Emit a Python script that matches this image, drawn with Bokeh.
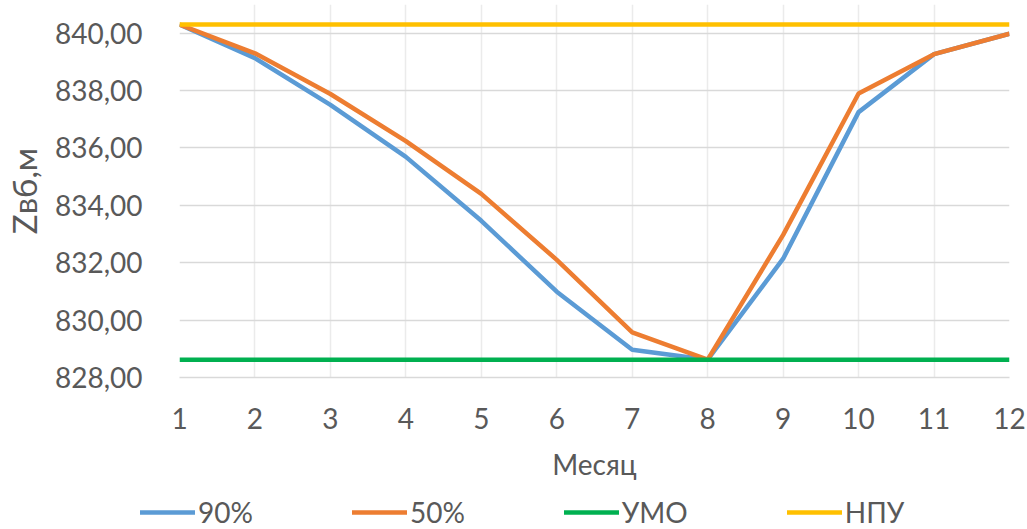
from bokeh.plotting import figure
from bokeh.layouts import column
from bokeh.models import FixedTicker, Legend, LegendItem, Range1d
from bokeh.embed import file_html
from bokeh.resources import INLINE

# Reservoir level by month
months = [1, 2, 3, 4, 5, 6, 7, 8, 9, 10, 11, 12]
level_90 = [840.30, 839.13, 837.50, 835.69, 833.46, 830.99, 828.97, 828.62, 832.14, 837.25, 839.27, 839.98]
level_50 = [840.30, 839.30, 837.88, 836.24, 834.40, 832.10, 829.57, 828.62, 832.97, 837.90, 839.27, 839.98]
umo = [828.62] * 12
npu = [840.30] * 12

series_names = ["90%", "50%", "УМО", "НПУ"]
series_colors = ["#5B9BD5", "#ED7D31", "#00B050", "#FFC000"]

y_ticks = [828, 830, 832, 834, 836, 838, 840]
y_tick_labels = ["828,00", "830,00", "832,00", "834,00", "836,00", "838,00", "840,00"]

FONT = "Lato"
TEXT = "#595959"
GRID = "#D9D9D9"
LEGEND_H = 44

p = figure(width=1027, height=529 - LEGEND_H, output_backend="svg", toolbar_location=None,
           x_range=Range1d(1, 12), y_range=Range1d(828, 841))
p.min_border_left = 178
p.min_border_right = 18
p.min_border_top = 4
p.min_border_bottom = 529 - LEGEND_H - 377
p.outline_line_color = None
p.background_fill_color = "white"
p.border_fill_color = "white"

for ys, color in zip([level_90, level_50, umo, npu], series_colors):
    p.line(months, ys, line_color=color, line_width=4.5, line_join="round")

# grid
p.xgrid.ticker = FixedTicker(ticks=months)
p.ygrid.ticker = FixedTicker(ticks=y_ticks)
p.xgrid.grid_line_color = "#EBEBEB"
p.ygrid.grid_line_color = GRID
p.xgrid.grid_line_width = 1.5
p.ygrid.grid_line_width = 1.5

# x axis
xa = p.xaxis[0]
xa.ticker = FixedTicker(ticks=months)
xa.axis_label = "Месяц"
xa.axis_line_color = GRID
xa.axis_line_width = 1.5
xa.major_tick_line_color = None
xa.minor_tick_line_color = None
xa.major_label_text_font = FONT
xa.major_label_text_font_size = "28px"
xa.major_label_text_color = TEXT
xa.major_label_standoff = 24
xa.axis_label_text_font = FONT
xa.axis_label_text_font_size = "28px"
xa.axis_label_text_font_style = "normal"
xa.axis_label_text_color = TEXT
xa.axis_label_standoff = 15

# y axis
ya = p.yaxis[0]
ya.ticker = FixedTicker(ticks=y_ticks)
ya.major_label_overrides = dict(zip(y_ticks, y_tick_labels))
ya.axis_label = "Zвб,м"
ya.axis_line_color = None
ya.major_tick_line_color = None
ya.minor_tick_line_color = None
ya.major_label_text_font = FONT
ya.major_label_text_font_size = "28px"
ya.major_label_text_color = TEXT
ya.major_label_standoff = 31
ya.axis_label_text_font = FONT
ya.axis_label_text_font_size = "33px"
ya.axis_label_text_font_style = "normal"
ya.axis_label_text_color = TEXT
ya.axis_label_standoff = 8

# legend strip under the chart
lg = figure(width=1027, height=LEGEND_H, output_backend="svg", toolbar_location=None,
            x_range=Range1d(0, 1), y_range=Range1d(0, 1),
            min_border_left=0, min_border_right=0, min_border_top=0, min_border_bottom=0)
lg.frame_align = False
lg.outline_line_color = None
lg.axis.visible = False
lg.grid.visible = False
keys = []
for color in series_colors:
    keys.append(lg.line([-1], [-1], line_color=color, line_width=4.5, line_cap="round"))

legend = Legend(
    items=[LegendItem(label=n, renderers=[r]) for n, r in zip(series_names, keys)],
    orientation="horizontal",
    location=(140, 0),
    padding=0, margin=0, spacing=99,
    glyph_width=55, glyph_height=24, label_standoff=3,
    label_text_font=FONT, label_text_font_size="28px", label_text_color=TEXT,
    border_line_color=None, background_fill_alpha=0,
)
lg.add_layout(legend)

layout = column(p, lg, spacing=0)
open("out.html", "w").write(file_html(layout, INLINE))
